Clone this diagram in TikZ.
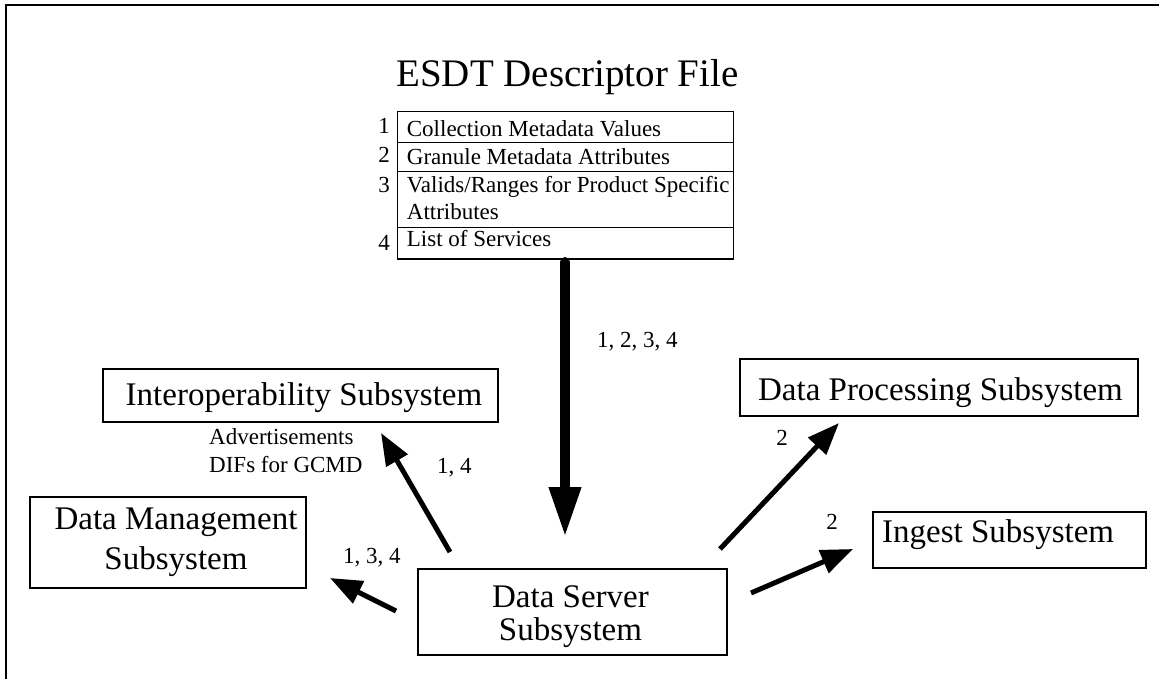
\documentclass[tikz,border=0pt]{standalone}
\usepackage{fontspec}
\setmainfont{Liberation Serif}
\usetikzlibrary{arrows.meta}
\begin{document}
\begin{tikzpicture}[x=1pt,y=-1pt,
  sysbox/.style={draw,line width=1.3pt,inner sep=0pt},
  systext/.style={inner sep=0pt,font=\fontsize{33}{33}\selectfont},
  rowbox/.style={draw,line width=1.3pt,inner sep=0pt,minimum width=336pt,anchor=north west},
  lbl/.style={inner sep=0pt,font=\fontsize{23}{27}\selectfont},
  thinarrow/.style={line width=5pt,-{Triangle[length=32pt,width=24pt]}},
  thickarrow/.style={line width=10pt,line cap=round,-{Triangle[length=50pt,width=30pt]}}]
\useasboundingbox (0,0) rectangle (1159,679);
\draw[line width=2pt] (5.5,679) -- (5.5,5.5) -- (1159,5.5);

\node[inner sep=0pt,anchor=base,font=\fontsize{39}{39}\selectfont] (title) at (567.5,86.7) {ESDT Descriptor File};

% descriptor rows
\node[rowbox,minimum height=31pt] (r1) at (397,110.7) {};
\node[rowbox,minimum height=29pt] (r2) at (397,141.7) {};
\node[rowbox,minimum height=56pt] (r3) at (397,170.7) {};
\node[rowbox,minimum height=31.6pt] (r4) at (397,226.7) {};
\node[lbl,anchor=base west] (t1) at (406.7,136.7) {Collection Metadata Values};
\node[lbl,anchor=base west] (t2) at (406.7,165) {Granule Metadata Attributes};
\node[lbl,anchor=base west] (t3a) at (406.7,193) {Valids/Ranges for Product Specific};
\node[lbl,anchor=base west] (t3b) at (406.7,220) {Attributes};
\node[lbl,anchor=base west] (t4) at (406.7,246.7) {List of Services};

\node[lbl,anchor=base] (n1) at (384,134) {1};
\node[lbl,anchor=base] (n2) at (384,163) {2};
\node[lbl,anchor=base] (n3) at (384,193) {3};
\node[lbl,anchor=base] (n4) at (384,251) {4};

% subsystem boxes
\node[sysbox,minimum width=395pt,minimum height=53pt] (inter) at (300.5,395.5) {};
\node[systext,anchor=base] (intert) at (304,405) {Interoperability Subsystem};
\node[sysbox,minimum width=276pt,minimum height=91pt] (dm) at (168,542.5) {};
\node[systext,anchor=base] (dmt1) at (176,529) {Data Management};
\node[systext,anchor=base] (dmt2) at (176,569) {Subsystem};
\node[sysbox,minimum width=309pt,minimum height=86pt] (ds) at (572.5,612) {};
\node[systext,anchor=base] (dst1) at (570.5,607) {Data Server};
\node[systext,anchor=base] (dst2) at (570.5,640) {Subsystem};
\node[sysbox,minimum width=398pt,minimum height=57pt] (dp) at (939,387.5) {};
\node[systext,anchor=base] (dpt) at (940.5,400) {Data Processing Subsystem};
\node[sysbox,minimum width=273pt,minimum height=56pt] (ing) at (1009.5,540) {};
\node[systext,anchor=base west] (ingt) at (882,542) {Ingest Subsystem};

% labels
\node[lbl,anchor=base west] (adv1) at (209,444) {Advertisements};
\node[lbl,anchor=base west] (adv2) at (209,472) {DIFs for GCMD};
\node[lbl,anchor=base west] (l1234) at (597,347) {1, 2, 3, 4};
\node[lbl,anchor=base west] (l14) at (437,473) {1, 4};
\node[lbl,anchor=base west] (l134) at (343,563) {1, 3, 4};
\node[lbl] (l2a) at (782,438) {2};
\node[lbl] (l2b) at (832,522) {2};

% arrows
\coordinate (a0s) at (565,262);
\coordinate (a0e) at (565,537);
\coordinate (a1s) at (450,552);
\coordinate (a1e) at (381,433);
\coordinate (a2s) at (396,611);
\coordinate (a2e) at (330,578);
\coordinate (a3s) at (720,549);
\coordinate (a3e) at (839,423);
\coordinate (a4s) at (751,593);
\coordinate (a4e) at (853,549);

\draw[thickarrow] (a0s) -- (a0e);
\draw[thinarrow] (a1s) -- (a1e);
\draw[thinarrow] (a2s) -- (a2e);
\draw[thinarrow] (a3s) -- (a3e);
\draw[thinarrow] (a4s) -- (a4e);
\end{tikzpicture}
\end{document}
